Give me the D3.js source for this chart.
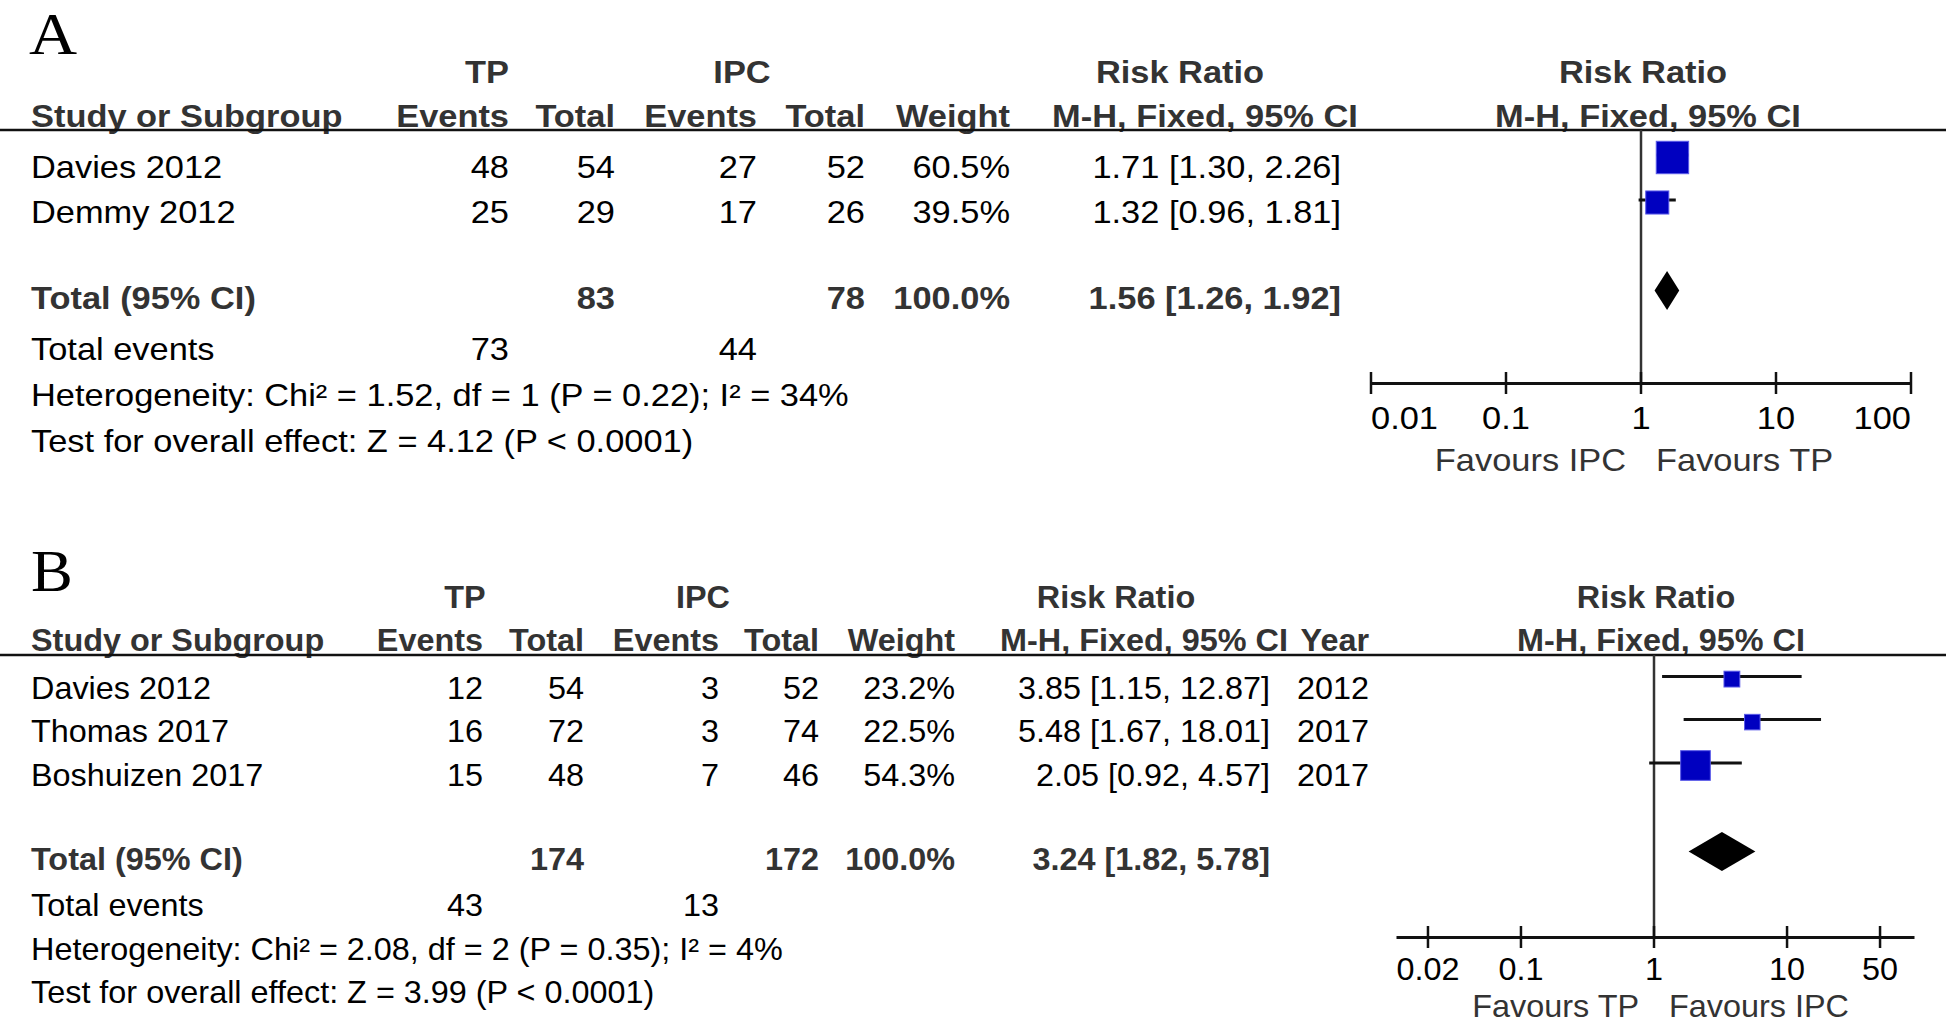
<!DOCTYPE html>
<html>
<head>
<meta charset="utf-8">
<script src="https://cdn.jsdelivr.net/npm/d3@7"></script>
<style>
  html, body { margin: 0; padding: 0; background: #fff; }
  svg { display: block; }
</style>
</head>
<body>
<svg id="chart" width="1946" height="1024"></svg>
<script>
// ---------------- DATA ----------------
// Panel A
const studiesA   = ["Davies 2012", "Demmy 2012"];
const tpEventsA  = [48, 25];
const tpTotalA   = [54, 29];
const ipcEventsA = [27, 17];
const ipcTotalA  = [52, 26];
const weightA    = [60.5, 39.5];
const rrA        = [1.71, 1.32];
const lowA       = [1.30, 0.96];
const highA      = [2.26, 1.81];
const totalA     = { tp: 83, ipc: 78, weight: 100.0, rr: 1.56, low: 1.26, high: 1.92, tpEvents: 73, ipcEvents: 44 };
const hetA       = "Heterogeneity: Chi² = 1.52, df = 1 (P = 0.22); I² = 34%";
const testA      = "Test for overall effect: Z = 4.12 (P < 0.0001)";
const ticksA     = [0.01, 0.1, 1, 10, 100];
const favoursA   = ["Favours IPC", "Favours TP"];

// Panel B
const studiesB   = ["Davies 2012", "Thomas 2017", "Boshuizen 2017"];
const tpEventsB  = [12, 16, 15];
const tpTotalB   = [54, 72, 48];
const ipcEventsB = [3, 3, 7];
const ipcTotalB  = [52, 74, 46];
const weightB    = [23.2, 22.5, 54.3];
const rrB        = [3.85, 5.48, 2.05];
const lowB       = [1.15, 1.67, 0.92];
const highB      = [12.87, 18.01, 4.57];
const yearB      = [2012, 2017, 2017];
const totalB     = { tp: 174, ipc: 172, weight: 100.0, rr: 3.24, low: 1.82, high: 5.78, tpEvents: 43, ipcEvents: 13 };
const hetB       = "Heterogeneity: Chi² = 2.08, df = 2 (P = 0.35); I² = 4%";
const testB      = "Test for overall effect: Z = 3.99 (P < 0.0001)";
const ticksB     = [0.02, 0.1, 1, 10, 50];
const favoursB   = ["Favours TP", "Favours IPC"];

// ---------------- DRAWING ----------------
const svg = d3.select("#chart");
svg.append("rect").attr("width", 1946).attr("height", 1024).attr("fill", "#fff");

let SX = 1.1;              // horizontal stretch of glyphs (set per panel)
const FS = 31;             // font size
const SANS = "'Liberation Sans', Arial, sans-serif";
const SERIF = "'Liberation Serif', 'Times New Roman', serif";

function txt(g, x, y, s, o = {}) {
  return g.append("text")
    .attr("transform", `translate(${x},${y}) scale(${SX},1)`)
    .attr("text-anchor", o.anchor || "start")
    .attr("font-family", o.family || SANS)
    .attr("font-size", o.size || FS)
    .attr("font-weight", o.bold ? "bold" : "normal")
    .attr("fill", o.fill || "#000")
    .text(s);
}

const fmt2 = d3.format(".2f");
const fmtW = d3.format(".1f");
const ciText = (r, l, h) => `${fmt2(r)} [${fmt2(l)}, ${fmt2(h)}]`;

const sizeScale = d3.scaleLinear().domain([0, 100]).range([5.5, 50]);

function drawPanel(cfg) {
  SX = cfg.sx;
  const g = svg.append("g");
  const HC = "#333";

  // panel letter
  txt(g, cfg.letterX, cfg.letterY, cfg.letter, { family: SERIF, size: 60 });

  // header row 1
  txt(g, cfg.tpHead, cfg.h1Y, "TP", { anchor: "middle", bold: true, fill: HC });
  txt(g, cfg.ipcHead, cfg.h1Y, "IPC", { anchor: "middle", bold: true, fill: HC });
  txt(g, cfg.rrHead, cfg.h1Y, "Risk Ratio", { anchor: "middle", bold: true, fill: HC });
  txt(g, cfg.plotRRHead, cfg.h1Y, "Risk Ratio", { anchor: "middle", bold: true, fill: HC });

  // header row 2
  txt(g, 31, cfg.h2Y, "Study or Subgroup", { bold: true, fill: HC });
  txt(g, cfg.cols.tpEv, cfg.h2Y, "Events", { anchor: "end", bold: true, fill: HC });
  txt(g, cfg.cols.tpTot, cfg.h2Y, "Total", { anchor: "end", bold: true, fill: HC });
  txt(g, cfg.cols.ipcEv, cfg.h2Y, "Events", { anchor: "end", bold: true, fill: HC });
  txt(g, cfg.cols.ipcTot, cfg.h2Y, "Total", { anchor: "end", bold: true, fill: HC });
  txt(g, cfg.cols.weight, cfg.h2Y, "Weight", { anchor: "end", bold: true, fill: HC });
  txt(g, cfg.mhHead, cfg.h2Y, "M-H, Fixed, 95% CI", { anchor: "middle", bold: true, fill: HC });
  if (cfg.year) txt(g, cfg.cols.year, cfg.h2Y, "Year", { anchor: "end", bold: true, fill: HC });
  txt(g, cfg.plotMHHead, cfg.h2Y, "M-H, Fixed, 95% CI", { anchor: "middle", bold: true, fill: HC });

  // header rule
  g.append("line").attr("x1", 0).attr("x2", 1946)
    .attr("y1", cfg.lineY).attr("y2", cfg.lineY)
    .attr("stroke", "#111").attr("stroke-width", 2.7);

  // study rows
  cfg.studies.forEach((s, i) => {
    const y = cfg.rowY[i];
    txt(g, 31, y, s);
    txt(g, cfg.cols.tpEv, y, cfg.tpEvents[i], { anchor: "end" });
    txt(g, cfg.cols.tpTot, y, cfg.tpTotal[i], { anchor: "end" });
    txt(g, cfg.cols.ipcEv, y, cfg.ipcEvents[i], { anchor: "end" });
    txt(g, cfg.cols.ipcTot, y, cfg.ipcTotal[i], { anchor: "end" });
    txt(g, cfg.cols.weight, y, fmtW(cfg.weight[i]) + "%", { anchor: "end" });
    txt(g, cfg.cols.ci, y, ciText(cfg.rr[i], cfg.low[i], cfg.high[i]), { anchor: "end" });
    if (cfg.year) txt(g, cfg.cols.year, y, cfg.year[i], { anchor: "end" });
  });

  // total row
  const t = cfg.total;
  txt(g, 31, cfg.totalY, "Total (95% CI)", { bold: true, fill: HC });
  txt(g, cfg.cols.tpTot, cfg.totalY, t.tp, { anchor: "end", bold: true, fill: HC });
  txt(g, cfg.cols.ipcTot, cfg.totalY, t.ipc, { anchor: "end", bold: true, fill: HC });
  txt(g, cfg.cols.weight, cfg.totalY, fmtW(t.weight) + "%", { anchor: "end", bold: true, fill: HC });
  txt(g, cfg.cols.ci, cfg.totalY, ciText(t.rr, t.low, t.high), { anchor: "end", bold: true, fill: HC });

  txt(g, 31, cfg.eventsY, "Total events");
  txt(g, cfg.cols.tpEv, cfg.eventsY, t.tpEvents, { anchor: "end" });
  txt(g, cfg.cols.ipcEv, cfg.eventsY, t.ipcEvents, { anchor: "end" });
  txt(g, 31, cfg.hetY, cfg.het);
  txt(g, 31, cfg.testY, cfg.test);

  // ---- forest plot ----
  const x = cfg.x;
  const [r0, r1] = x.range();

  // null line
  g.append("line").attr("x1", x(1)).attr("x2", x(1))
    .attr("y1", cfg.lineY).attr("y2", cfg.axisY)
    .attr("stroke", "#333").attr("stroke-width", 2.5);

  // CI lines + squares
  cfg.studies.forEach((s, i) => {
    const cy = cfg.rowY[i] - 22.7;
    g.append("line")
      .attr("x1", x(cfg.low[i])).attr("x2", x(cfg.high[i]))
      .attr("y1", cy).attr("y2", cy)
      .attr("stroke", "#111").attr("stroke-width", 3);
    const sz = sizeScale(cfg.weight[i]);
    g.append("rect")
      .attr("x", x(cfg.rr[i]) - sz / 2).attr("y", cy + 2.5 - sz / 2)
      .attr("width", sz).attr("height", sz)
      .attr("fill", "#0000c0").attr("stroke", "#5a5ae8").attr("stroke-width", 1);
  });

  // diamond
  const dy = cfg.totalY - 18, dh = 19.5;
  g.append("path")
    .attr("d", `M${x(t.low)},${dy} L${x(t.rr)},${dy - dh} L${x(t.high)},${dy} L${x(t.rr)},${dy + dh} Z`)
    .attr("fill", "#000");

  // axis
  const axisG = g.append("g").attr("transform", `translate(0,${cfg.axisY})`);
  axisG.call(d3.axisBottom(x).tickValues(cfg.ticks).tickSize(0).tickFormat(""));
  axisG.select(".domain").attr("stroke", "#111").attr("stroke-width", 3);
  axisG.selectAll(".tick line").remove();
  cfg.ticks.forEach(v => {
    g.append("line").attr("x1", x(v)).attr("x2", x(v))
      .attr("y1", cfg.axisY - 11).attr("y2", cfg.axisY + 11)
      .attr("stroke", "#111").attr("stroke-width", 2.5);
    const lab = txt(g, x(v), cfg.tickLabY, d3.format("~g")(v), { anchor: "middle" });
    const w = lab.node().getBBox().width * SX;
    if (x(v) - w / 2 < r0 - 5) {
      lab.attr("text-anchor", "start").attr("transform", `translate(${r0},${cfg.tickLabY}) scale(${SX},1)`);
    } else if (x(v) + w / 2 > r1 + 5) {
      lab.attr("text-anchor", "end").attr("transform", `translate(${r1},${cfg.tickLabY}) scale(${SX},1)`);
    }
  });

  txt(g, x(1) - 15, cfg.favY, cfg.favours[0], { anchor: "end", fill: "#333" });
  txt(g, x(1) + 15, cfg.favY, cfg.favours[1], { fill: "#333" });
}

drawPanel({
  sx: 1.11,
  letter: "A", letterX: 29, letterY: 54,
  h1Y: 83, h2Y: 127, lineY: 130,
  rowY: [177.7, 222.7], totalY: 308.5, eventsY: 360, hetY: 406, testY: 451.5,
  cols: { tpEv: 509, tpTot: 615, ipcEv: 757, ipcTot: 865, weight: 1010, ci: 1341 },
  tpHead: 487, ipcHead: 742, rrHead: 1180, mhHead: 1205,
  plotRRHead: 1643, plotMHHead: 1648,
  studies: studiesA, tpEvents: tpEventsA, tpTotal: tpTotalA, ipcEvents: ipcEventsA, ipcTotal: ipcTotalA,
  weight: weightA, rr: rrA, low: lowA, high: highA, total: totalA, het: hetA, test: testA,
  x: d3.scaleLog().domain([0.01, 100]).range([1371, 1911]),
  ticks: ticksA, favours: favoursA,
  axisY: 383, tickLabY: 428.5, favY: 471
});

drawPanel({
  sx: 1.045,
  letter: "B", letterX: 31, letterY: 591,
  h1Y: 608, h2Y: 651, lineY: 655,
  rowY: [699.3, 742.3, 785.7], totalY: 869.5, eventsY: 916, hetY: 960, testY: 1003,
  cols: { tpEv: 483, tpTot: 584, ipcEv: 719, ipcTot: 819, weight: 955, ci: 1270, year: 1369 },
  tpHead: 465, ipcHead: 703, rrHead: 1116, mhHead: 1144,
  plotRRHead: 1656, plotMHHead: 1661,
  studies: studiesB, tpEvents: tpEventsB, tpTotal: tpTotalB, ipcEvents: ipcEventsB, ipcTotal: ipcTotalB,
  weight: weightB, rr: rrB, low: lowB, high: highB, year: yearB, total: totalB, het: hetB, test: testB,
  x: d3.scaleLog().domain([0.0115, 90]).range([1396, 1914]),
  ticks: ticksB, favours: favoursB,
  axisY: 937, tickLabY: 980, favY: 1017
});
</script>
</body>
</html>
